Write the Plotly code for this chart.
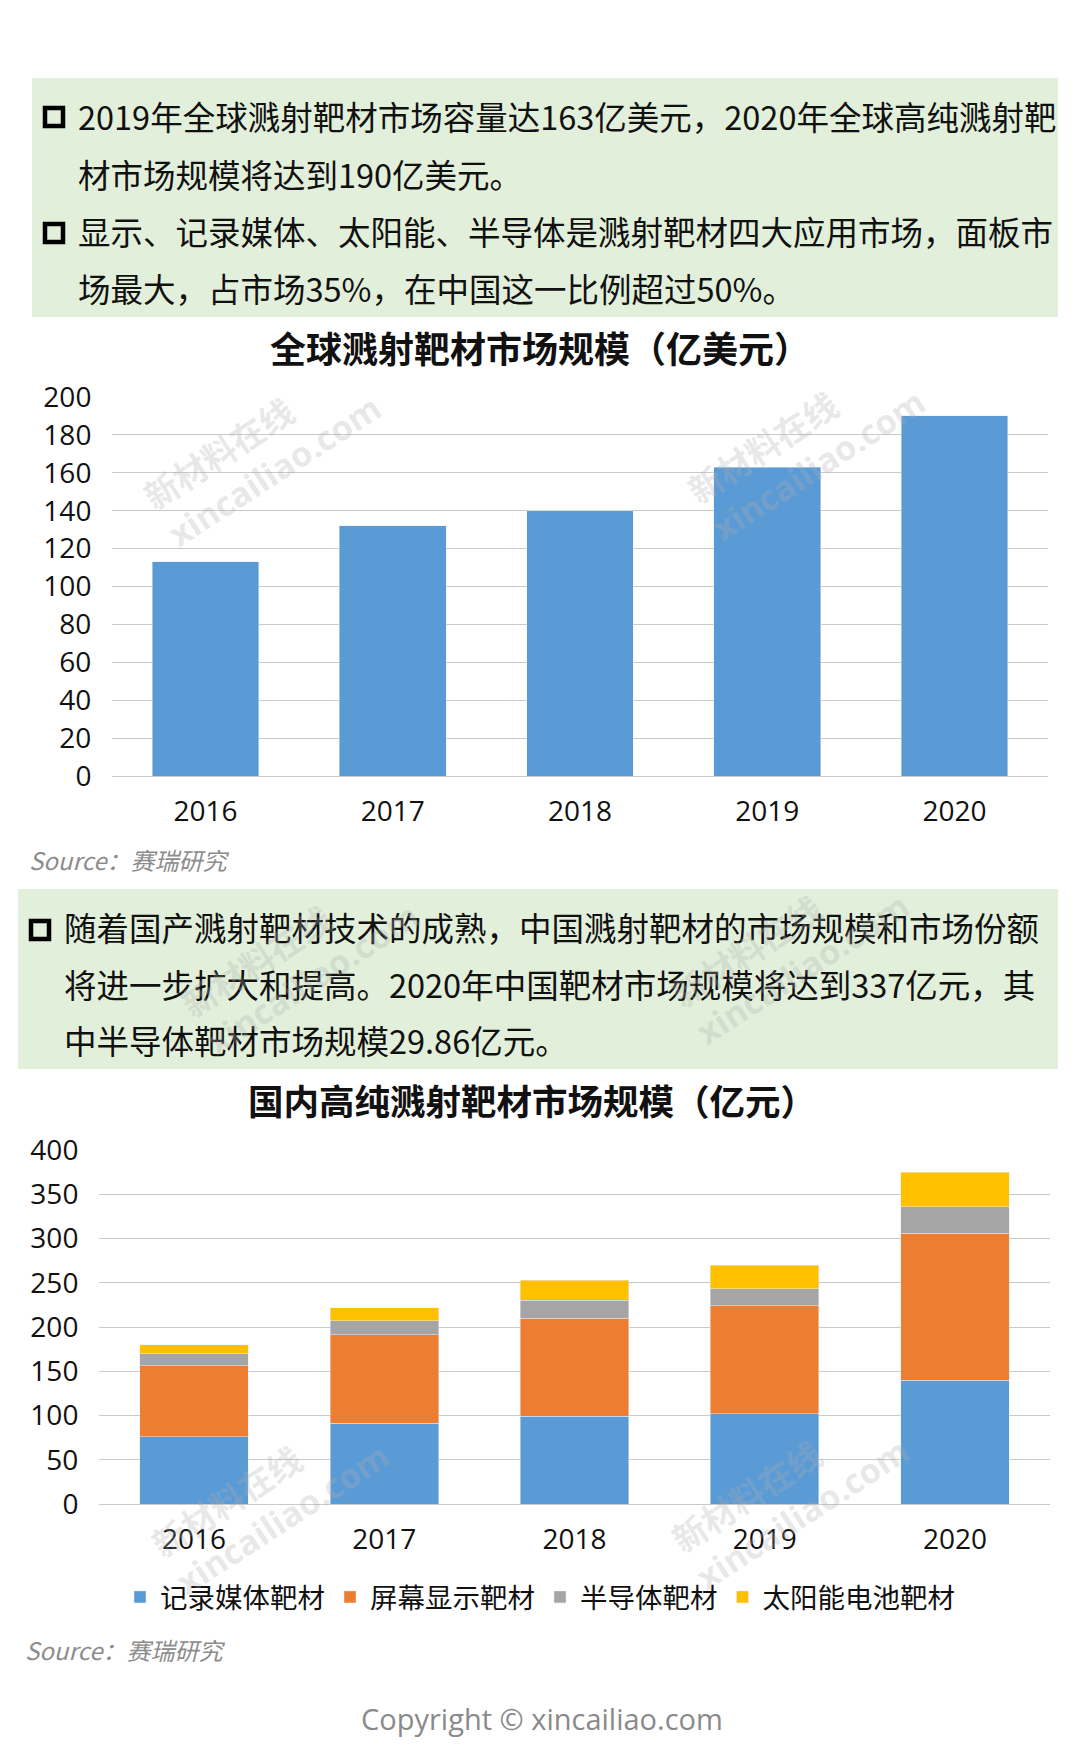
import plotly.graph_objects as go

W, H = 1080, 1757
OFF = 8  # the page body adds an 8px margin; positions below are screenshot pixels

# ---- data ----
years = ["2016", "2017", "2018", "2019", "2020"]
global_market = [113, 132, 140, 163, 190]  # 亿美元

series_names = ["记录媒体靶材", "屏幕显示靶材", "半导体靶材", "太阳能电池靶材"]
recording_media = [76, 91, 99, 102, 140]
display_panel = [80, 100, 111, 122, 166]
semiconductor = [14, 16, 20, 19, 30]
solar_cell = [10, 15, 23, 27, 39]

box1_lines = [
    "2019年全球溅射靶材市场容量达163亿美元，2020年全球高纯溅射靶",
    "材市场规模将达到190亿美元。",
    "显示、记录媒体、太阳能、半导体是溅射靶材四大应用市场，面板市",
    "场最大，占市场35%，在中国这一比例超过50%。",
]
box2_lines = [
    "随着国产溅射靶材技术的成熟，中国溅射靶材的市场规模和市场份额",
    "将进一步扩大和提高。2020年中国靶材市场规模将达到337亿元，其",
    "中半导体靶材市场规模29.86亿元。",
]
title1 = "全球溅射靶材市场规模（亿美元）"
title2 = "国内高纯溅射靶材市场规模（亿元）"
source_text = "Source：赛瑞研究"
copyright_text = "Copyright © xincailiao.com"

colors = ["#5B9BD5", "#ED7D31", "#A5A5A5", "#FFC000"]
CJK = "Noto Sans CJK SC"
NUM = "Open Sans, Noto Sans CJK SC"
GRID = "#C9C9C9"


def px_x(x):
    return (x - OFF) / W


def px_y(y):
    return 1 - (y - OFF) / H


fig = go.Figure()

# chart 1: global market
fig.add_trace(go.Bar(x=years, y=global_market, marker_color=colors[0],
                     showlegend=False, xaxis="x", yaxis="y"))

# chart 2: domestic market, stacked
for name, vals, c in zip(series_names,
                         [recording_media, display_panel, semiconductor, solar_cell],
                         colors):
    fig.add_trace(go.Bar(x=years, y=vals, name=name, marker_color=c,
                         xaxis="x2", yaxis="y2"))

axis_common = dict(showline=False, ticks="outside", tickcolor="rgba(0,0,0,0)",
                   automargin=False,
                   tickfont=dict(family=NUM, size=28, color="#111"), fixedrange=True)

fig.update_layout(
    width=W, height=H, autosize=False,
    margin=dict(l=0, r=0, t=0, b=0, pad=0),
    paper_bgcolor="white", plot_bgcolor="white",
    barmode="stack", bargap=0.43,
    font=dict(family=CJK, color="#111"),
    xaxis=dict(domain=[px_x(112), px_x(1048)], anchor="y", showgrid=False,
               ticklen=10, **axis_common),
    yaxis=dict(domain=[px_y(776), px_y(397)], anchor="x", range=[0, 200], dtick=20,
               showgrid=True, gridcolor=GRID, gridwidth=1.3,
               zeroline=True, zerolinecolor=GRID, zerolinewidth=1.3,
               ticklen=14, **axis_common),
    xaxis2=dict(domain=[px_x(99), px_x(1050)], anchor="y2", showgrid=False,
                ticklen=10, **axis_common),
    yaxis2=dict(domain=[px_y(1504), px_y(1150)], anchor="x2", range=[0, 400], dtick=50,
                showgrid=True, gridcolor=GRID, gridwidth=1.3,
                zeroline=True, zerolinecolor=GRID, zerolinewidth=1.3,
                ticklen=14, **axis_common),
    legend=dict(orientation="h", traceorder="normal",
                x=px_x(540), xanchor="center", y=px_y(1597), yanchor="middle",
                font=dict(family=CJK, size=27.5, color="#111"),
                itemwidth=30, tracegroupgap=0, bgcolor="rgba(0,0,0,0)"),
)

shapes = [
    # green text boxes
    dict(type="rect", xref="paper", yref="paper", layer="below",
         x0=px_x(32), x1=px_x(1058), y0=px_y(317), y1=px_y(78),
         fillcolor="#E2EFDA", line=dict(width=0)),
    dict(type="rect", xref="paper", yref="paper", layer="below",
         x0=px_x(18), x1=px_x(1058), y0=px_y(1069), y1=px_y(889),
         fillcolor="#E2EFDA", line=dict(width=0)),
]
# hollow square bullets
for bx, by in [(54, 117), (54, 233), (40, 930)]:
    shapes.append(dict(type="rect", xref="paper", yref="paper",
                       x0=px_x(bx - 9), x1=px_x(bx + 9), y0=px_y(by + 9), y1=px_y(by - 9),
                       line=dict(color="#000", width=4.5), fillcolor="rgba(0,0,0,0)"))
fig.update_layout(shapes=shapes)

ann = []
for i, line in enumerate(box1_lines):
    ann.append(dict(x=px_x(76), y=px_y([115, 173, 230, 288][i]), text=line,
                    xanchor="left", yanchor="middle"))
for i, line in enumerate(box2_lines):
    ann.append(dict(x=px_x(62), y=px_y([926, 983, 1039][i]), text=line,
                    xanchor="left", yanchor="middle"))
for a in ann:
    a.update(xref="paper", yref="paper", showarrow=False,
             font=dict(family=CJK, size=32.5, color="#111"))

ann += [
    dict(x=px_x(540), y=px_y(347), text="<b>%s</b>" % title1, xanchor="center", yanchor="middle",
         font=dict(family=CJK, size=36, color="#111")),
    dict(x=px_x(532), y=px_y(1099), text="<b>%s</b>" % title2, xanchor="center", yanchor="middle",
         font=dict(family=CJK, size=35.5, color="#111")),
    dict(x=px_x(27), y=px_y(859), text="<i>%s</i>" % source_text, xanchor="left", yanchor="middle",
         font=dict(family=CJK, size=24, color="#8C8C8C")),
    dict(x=px_x(23), y=px_y(1649), text="<i>%s</i>" % source_text, xanchor="left", yanchor="middle",
         font=dict(family=CJK, size=24, color="#8C8C8C")),
    dict(x=px_x(542), y=px_y(1718), text=copyright_text, xanchor="center", yanchor="middle",
         font=dict(family=NUM, size=29, color="#8A8A8A")),
]
for a in ann[-5:]:
    a.update(xref="paper", yref="paper", showarrow=False)

# faint site watermarks
for wx, wy in [(262, 452), (806, 446), (300, 960), (790, 950), (270, 1500), (790, 1495)]:
    ann.append(dict(x=px_x(wx), y=px_y(wy), xref="paper", yref="paper", showarrow=False,
                    text="<b>新材料在线</b><br><b>xincailiao.com</b>", align="left",
                    textangle=-33, xanchor="center", yanchor="middle",
                    font=dict(family=NUM, size=34, color="rgba(175,175,175,0.28)")))

fig.update_layout(annotations=ann)

fig.write_html("out.html")
